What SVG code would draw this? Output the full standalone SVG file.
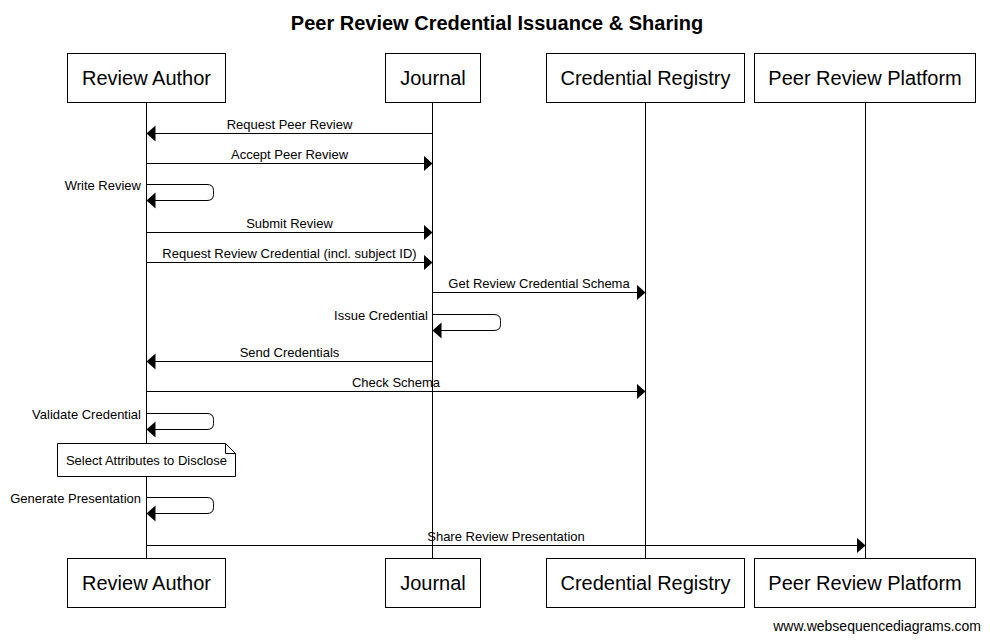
<svg xmlns="http://www.w3.org/2000/svg" width="990" height="641" viewBox="0 0 990 641">
<defs>
<style>
.box{fill:#fff;stroke:#000;stroke-width:1}
.life{stroke:#000;stroke-width:1;fill:none}
.msg{stroke:#000;stroke-width:1;fill:none;marker-end:url(#ah)}
.actor{font-family:"Liberation Sans",Arial,sans-serif;font-size:20px;text-anchor:middle;fill:#000}
.lbl{font-family:"Liberation Sans",Arial,sans-serif;font-size:13px;text-anchor:middle;fill:#000}
.lblr{font-family:"Liberation Sans",Arial,sans-serif;font-size:13px;text-anchor:end;fill:#000}
.title{font-family:"Liberation Sans",Arial,sans-serif;font-size:20px;font-weight:bold;text-anchor:middle;fill:#000}
.foot{font-family:"Liberation Sans",Arial,sans-serif;font-size:14px;text-anchor:end;fill:#000}
</style>
<marker id="ah" markerUnits="userSpaceOnUse" markerWidth="10" markerHeight="17" refX="9" refY="8" orient="auto">
<path d="M0,0 L9,8 L0,16 z" fill="#000"/>
</marker>
</defs>
<rect width="990" height="641" fill="#fff"/>
<text class="title" x="497" y="30">Peer Review Credential Issuance &amp; Sharing</text>
<g id="lifelines">
<line class="life" x1="146.5" y1="102" x2="146.5" y2="558"/>
<line class="life" x1="432.5" y1="102" x2="432.5" y2="558"/>
<line class="life" x1="645.5" y1="102" x2="645.5" y2="558"/>
<line class="life" x1="865.5" y1="102" x2="865.5" y2="558"/>
</g>
<g id="review-author">
<rect class="box" x="67.5" y="53.5" width="158" height="49"/>
<text class="actor" x="146.5" y="85">Review Author</text>
<rect class="box" x="67.5" y="558.5" width="158" height="49"/>
<text class="actor" x="146.5" y="590">Review Author</text>
</g>
<g id="journal">
<rect class="box" x="385.5" y="53.5" width="95" height="49"/>
<text class="actor" x="433" y="85">Journal</text>
<rect class="box" x="385.5" y="558.5" width="95" height="49"/>
<text class="actor" x="433" y="590">Journal</text>
</g>
<g id="credential-registry">
<rect class="box" x="546.5" y="53.5" width="198" height="49"/>
<text class="actor" x="645.5" y="85">Credential Registry</text>
<rect class="box" x="546.5" y="558.5" width="198" height="49"/>
<text class="actor" x="645.5" y="590">Credential Registry</text>
</g>
<g id="peer-review-platform">
<rect class="box" x="754.5" y="53.5" width="221" height="49"/>
<text class="actor" x="865" y="85">Peer Review Platform</text>
<rect class="box" x="754.5" y="558.5" width="221" height="49"/>
<text class="actor" x="865" y="590">Peer Review Platform</text>
</g>
<g id="note">
<path class="box" d="M57.5,443.5 H225.5 L235.5,453.5 V476.5 H57.5 Z"/>
<path class="life" d="M225.5,443.5 V453.5 H235.5"/>
<text class="lbl" x="146.5" y="465">Select Attributes to Disclose</text>
</g>
<g id="connectors">
<path class="msg" d="M432.5,133.5 H146.5"/>
<text class="lbl" x="289.5" y="129">Request Peer Review</text>
<path class="msg" d="M146.5,163.5 H432.5"/>
<text class="lbl" x="289.5" y="159">Accept Peer Review</text>
<path class="msg" d="M146.5,184.5 H207 Q213.5,184.5 213.5,190.5 V194.5 Q213.5,200.5 207,200.5 H146.5"/>
<text class="lblr" x="141" y="190">Write Review</text>
<path class="msg" d="M146.5,232.5 H432.5"/>
<text class="lbl" x="289.5" y="228">Submit Review</text>
<path class="msg" d="M146.5,262.5 H432.5"/>
<text class="lbl" x="289.5" y="258">Request Review Credential (incl. subject ID)</text>
<path class="msg" d="M432.5,292.5 H645.5"/>
<text class="lbl" x="539" y="288">Get Review Credential Schema</text>
<path class="msg" d="M432.5,314.5 H494 Q500.5,314.5 500.5,320.5 V324.5 Q500.5,330.5 494,330.5 H432.5"/>
<text class="lblr" x="428" y="320">Issue Credential</text>
<path class="msg" d="M432.5,361.5 H146.5"/>
<text class="lbl" x="289.5" y="357">Send Credentials</text>
<path class="msg" d="M146.5,391.5 H645.5"/>
<text class="lbl" x="396" y="387">Check Schema</text>
<path class="msg" d="M146.5,413.5 H207 Q213.5,413.5 213.5,419.5 V423.5 Q213.5,429.5 207,429.5 H146.5"/>
<text class="lblr" x="141" y="419">Validate Credential</text>
<path class="msg" d="M146.5,497.5 H207 Q213.5,497.5 213.5,503.5 V507.5 Q213.5,513.5 207,513.5 H146.5"/>
<text class="lblr" x="141" y="503">Generate Presentation</text>
<path class="msg" d="M146.5,545.5 H865.5"/>
<text class="lbl" x="506" y="541">Share Review Presentation</text>
</g>
<text class="foot" x="981" y="631">www.websequencediagrams.com</text>
</svg>
